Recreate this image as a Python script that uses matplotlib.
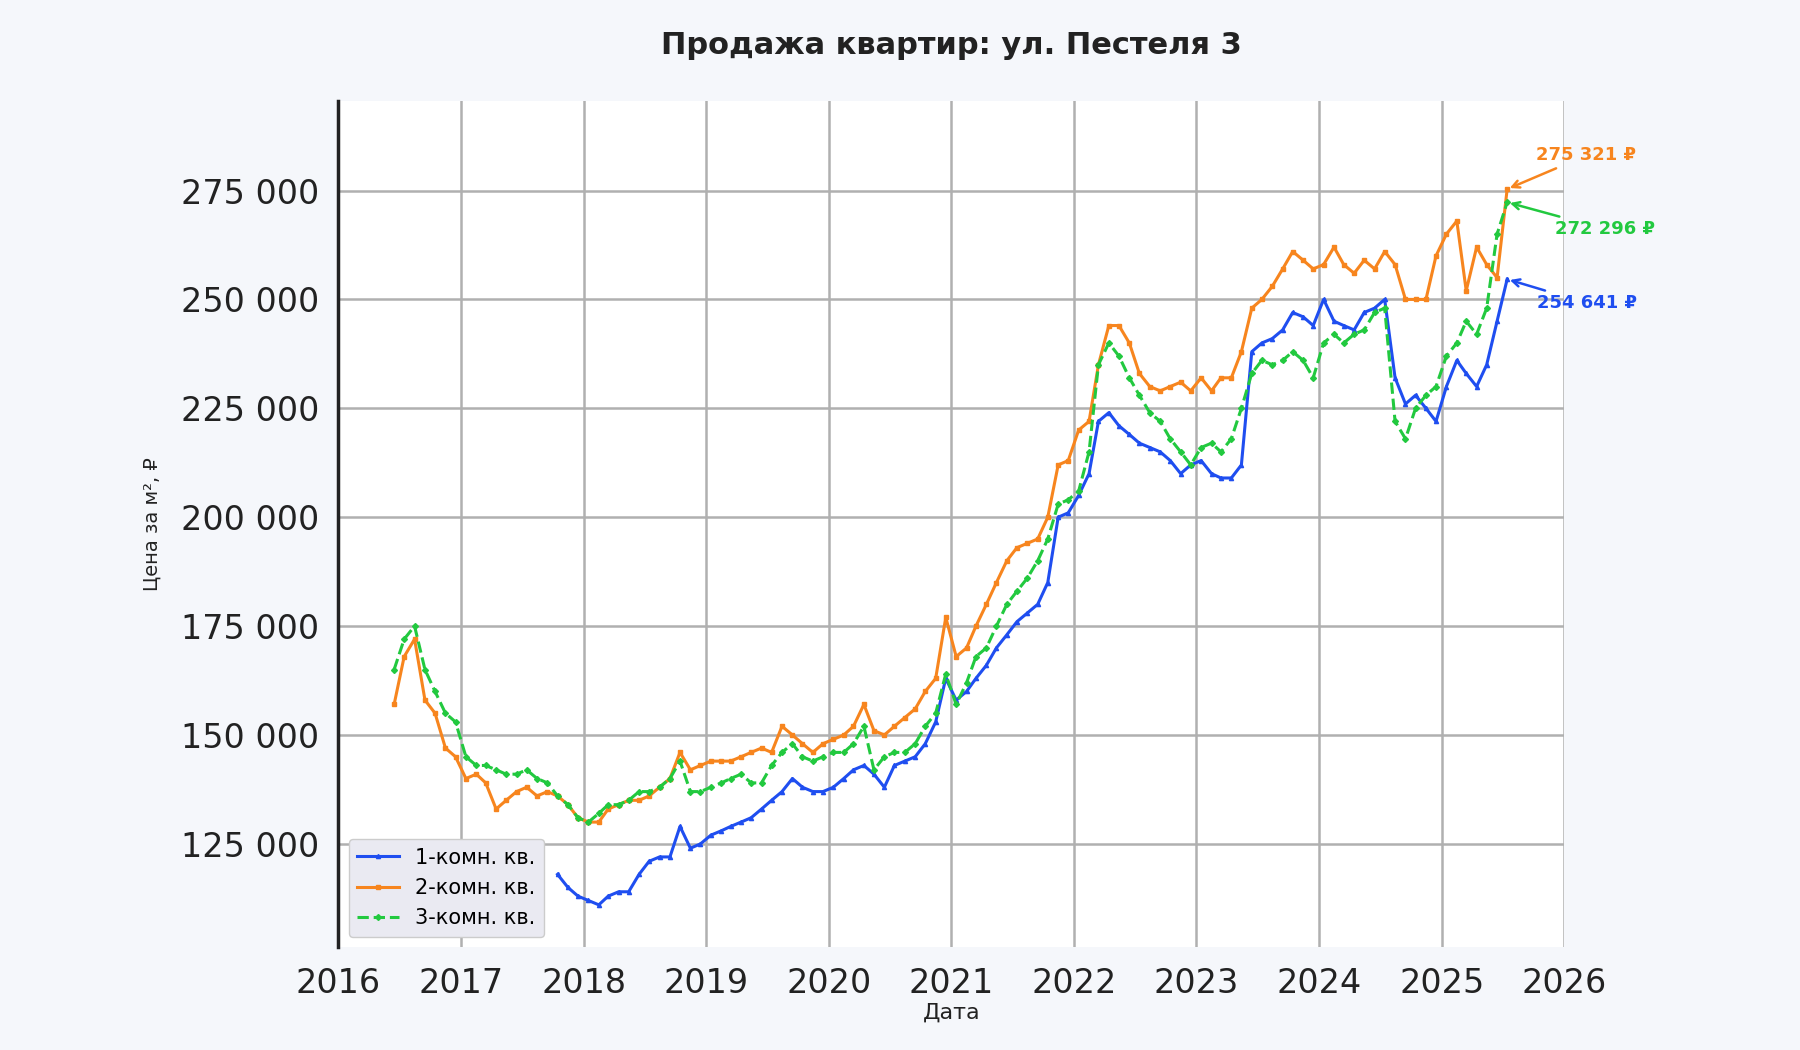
import numpy as np
import pandas as pd
import matplotlib
matplotlib.use("Agg")
import matplotlib.pyplot as plt
import matplotlib.dates as mdates
from matplotlib.ticker import FuncFormatter

# monthly prices, thousands of rub per m2
room2_start = "2016-06-01"
room2 = [157, 168, 172, 158, 155, 147, 145,
         140, 141, 139, 133, 135, 137, 138, 136, 137, 136, 134, 131,
         130, 130, 133, 134, 135, 135, 136, 138, 140, 146, 142, 143,
         144, 144, 144, 145, 146, 147, 146, 152, 150, 148, 146, 148,
         149, 150, 152, 157, 151, 150, 152, 154, 156, 160, 163, 177,
         168, 170, 175, 180, 185, 190, 193, 194, 195, 200, 212, 213,
         220, 222, 235, 244, 244, 240, 233, 230, 229, 230, 231, 229,
         232, 229, 232, 232, 238, 248, 250, 253, 257, 261, 259, 257,
         258, 262, 258, 256, 259, 257, 261, 258, 250, 250, 250, 260,
         265, 268, 252, 262, 258, 255, 275.321]

room3_start = "2016-06-01"
room3 = [165, 172, 175, 165, 160, 155, 153,
         145, 143, 143, 142, 141, 141, 142, 140, 139, 136, 134, 131,
         130, 132, 134, 134, 135, 137, 137, 138, 140, 144, 137, 137,
         138, 139, 140, 141, 139, 139, 143, 146, 148, 145, 144, 145,
         146, 146, 148, 152, 142, 145, 146, 146, 148, 152, 155, 164,
         157, 162, 168, 170, 175, 180, 183, 186, 190, 195, 203, 204,
         206, 215, 235, 240, 237, 232, 228, 224, 222, 218, 215, 212,
         216, 217, 215, 218, 225, 233, 236, 235, 236, 238, 236, 232,
         240, 242, 240, 242, 243, 247, 248, 222, 218, 225, 228, 230,
         237, 240, 245, 242, 248, 265, 272.296]

room1_start = "2017-10-01"
room1 = [118, 115, 113,
         112, 111, 113, 114, 114, 118, 121, 122, 122, 129, 124, 125,
         127, 128, 129, 130, 131, 133, 135, 137, 140, 138, 137, 137,
         138, 140, 142, 143, 141, 138, 143, 144, 145, 148, 153, 163,
         158, 160, 163, 166, 170, 173, 176, 178, 180, 185, 200, 201,
         205, 210, 222, 224, 221, 219, 217, 216, 215, 213, 210, 212,
         213, 210, 209, 209, 212, 238, 240, 241, 243, 247, 246, 244,
         250, 245, 244, 243, 247, 248, 250, 232, 226, 228, 225, 222,
         230, 236, 233, 230, 235, 245, 254.641]

series = [
    ("1-комн. кв.", room1_start, room1, "#1f4ef0", "-", "^"),
    ("2-комн. кв.", room2_start, room2, "#f7851e", "-", "s"),
    ("3-комн. кв.", room3_start, room3, "#22c93f", "--", "D"),
]

fig = plt.figure(figsize=(18, 10.5), dpi=100)
fig.patch.set_facecolor("#f5f7fb")
ax = fig.add_axes([0.188, 0.098, 0.681, 0.806])
ax.set_facecolor("white")

for label, start, vals, color, ls, mk in series:
    dates = pd.date_range(start, periods=len(vals), freq="MS") + pd.Timedelta(days=14)
    y = np.array(vals) * 1000
    ax.plot(dates, y, color=color, linestyle=ls, linewidth=2.2, marker=mk,
            markersize=3, label=label)

# last-value labels
notes = [
    (room2, room2_start, "#f7851e", "2025-10-10", 281900),
    (room3, room3_start, "#22c93f", "2025-12-05", 265000),
    (room1, room1_start, "#1f4ef0", "2025-10-12", 248000),
]
for vals, start, color, tx, ty in notes:
    last = pd.date_range(start, periods=len(vals), freq="MS")[-1] + pd.Timedelta(days=14)
    v = vals[-1] * 1000
    txt = f"{v:,.0f} ₽".replace(",", " ")
    ax.annotate(txt, xy=(last, v), xytext=(pd.Timestamp(tx), ty),
                color=color, fontsize=13, fontweight="bold",
                arrowprops=dict(arrowstyle="->", color=color, lw=1.8),
                annotation_clip=False)

ax.set_xlim(pd.Timestamp("2016-01-01"), pd.Timestamp("2026-01-01"))
ax.set_ylim(101300, 295600)
ax.set_yticks([125000, 150000, 175000, 200000, 225000, 250000, 275000])
ax.yaxis.set_major_formatter(FuncFormatter(lambda v, p: f"{v:,.0f}".replace(",", " ")))
ax.xaxis.set_major_locator(mdates.YearLocator())
ax.xaxis.set_major_formatter(mdates.DateFormatter("%Y"))
ax.tick_params(labelsize=24, length=0, pad=14, colors="#222222")
ax.grid(True, color="#b0b0b0", linewidth=1.8)
for s in ["top", "right", "bottom"]:
    ax.spines[s].set_visible(False)
ax.spines["left"].set_linewidth(2.5)
ax.spines["left"].set_color("#222222")

ax.set_title("Продажа квартир: ул. Пестеля 3", fontsize=22, fontweight="bold",
             color="#222222", pad=34)
ax.set_xlabel("Дата", fontsize=16, color="#222222", labelpad=2)
ax.set_ylabel("Цена за м², ₽", fontsize=14, color="#222222", labelpad=14)

leg = ax.legend(loc="lower left", fontsize=15, facecolor="#eaeaf2", edgecolor="#cccccc",
                framealpha=1)

fig.savefig("out.png", dpi=100, facecolor=fig.get_facecolor())
